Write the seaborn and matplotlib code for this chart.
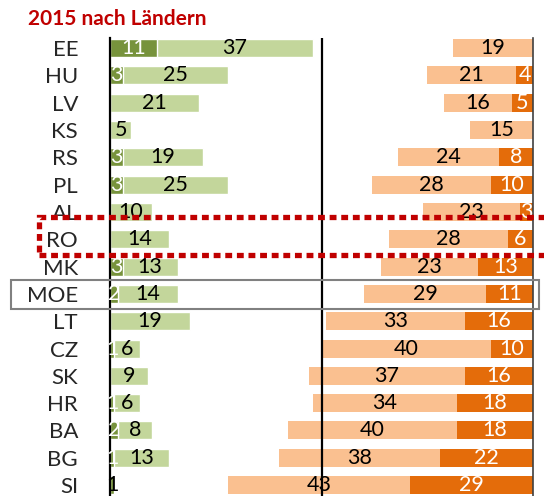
import numpy as np
import matplotlib.pyplot as plt
import seaborn as sns
from matplotlib.patches import Rectangle

# data
countries = ['EE', 'HU', 'LV', 'KS', 'RS', 'PL', 'AL', 'RO', 'MK', 'MOE',
             'LT', 'CZ', 'SK', 'HR', 'BA', 'BG', 'SI']
green_dark = [11, 3, 0, 0, 3, 3, 0, 0, 3, 2, 0, 1, 0, 1, 2, 1, 1]
green_light = [37, 25, 21, 5, 19, 25, 10, 14, 13, 14, 19, 6, 9, 6, 8, 13, 0]
orange_light = [19, 21, 16, 15, 24, 28, 23, 28, 23, 29, 33, 40, 37, 34, 40, 38, 43]
orange_dark = [0, 4, 5, 0, 8, 10, 3, 6, 13, 11, 16, 10, 16, 18, 18, 22, 29]

C_GD, C_GL = '#77933C', '#C3D69B'
C_OL, C_OD = '#FAC090', '#E46C0A'

sns.set_style('white')
plt.rcParams['font.family'] = ['Lato', 'DejaVu Sans']

fig = plt.figure(figsize=(5.44, 4.96), dpi=100)
ax = fig.add_axes([110 / 544, 0, 423 / 544, 458 / 496])

gd = np.array(green_dark)
gl = np.array(green_light)
ol = np.array(orange_light)
od = np.array(orange_dark)
pos = np.arange(len(countries))
h = 0.66

# green side (overlay: total first, then dark part)
sns.barplot(x=gd + gl, y=countries, orient='h', color=C_GL, saturation=1,
            width=h, ax=ax)
sns.barplot(x=gd, y=countries, orient='h', color=C_GD, saturation=1,
            width=h, ax=ax)

# orange side, right aligned at 100
ax.barh(pos, od, left=100 - od, height=h, color=C_OD, linewidth=0)
ax.barh(pos, ol, left=100 - od - ol, height=h, color=C_OL, linewidth=0)

fs = 15.5
for i in range(len(countries)):
    if gd[i] > 0:
        ax.text(gd[i] / 2, i, str(gd[i]), ha='center', va='center', fontsize=fs,
                color='white' if gl[i] > 0 else 'black')
    if gl[i] > 0:
        ax.text(gd[i] + gl[i] / 2, i, str(gl[i]), ha='center', va='center',
                fontsize=fs, color='black')
    if ol[i] > 0:
        ax.text(100 - od[i] - ol[i] / 2, i, str(ol[i]), ha='center', va='center',
                fontsize=fs, color='black')
    if od[i] > 0:
        ax.text(100 - od[i] / 2, i, str(od[i]), ha='center', va='center',
                fontsize=fs, color='white')

ax.axvline(50, color='black', lw=1.6, zorder=5)
ax.set_xlim(0, 100)
ax.set_ylim(16.4, -0.37)
ax.set_xticks([])
ax.set_xlabel('')
ax.set_ylabel('')
ax.tick_params(axis='y', length=0, pad=23, labelsize=16)
for s in ['top', 'bottom']:
    ax.spines[s].set_visible(False)
ax.spines['left'].set_color('black')
ax.spines['left'].set_linewidth(1.6)
ax.spines['right'].set_color('#404040')
ax.spines['right'].set_linewidth(1.2)

# highlight boxes
fig.patches.append(Rectangle((39 / 544, 1 - 255 / 496), 0.98, 38 / 496,
                             transform=fig.transFigure, fill=False,
                             edgecolor='#C00000', lw=3.8,
                             linestyle=(0, (1.3, 0.9)), zorder=10))
fig.patches.append(Rectangle((11 / 544, 1 - 309 / 496), 528 / 544, 29 / 496,
                             transform=fig.transFigure, fill=False,
                             edgecolor='#808080', lw=1.5, zorder=10))

fig.text(28 / 544, 1 - 19 / 496, '2015 nach Ländern', fontsize=15,
         fontweight='bold', color='#C00000', va='center', ha='left')

fig.savefig('out.png', dpi=100)
